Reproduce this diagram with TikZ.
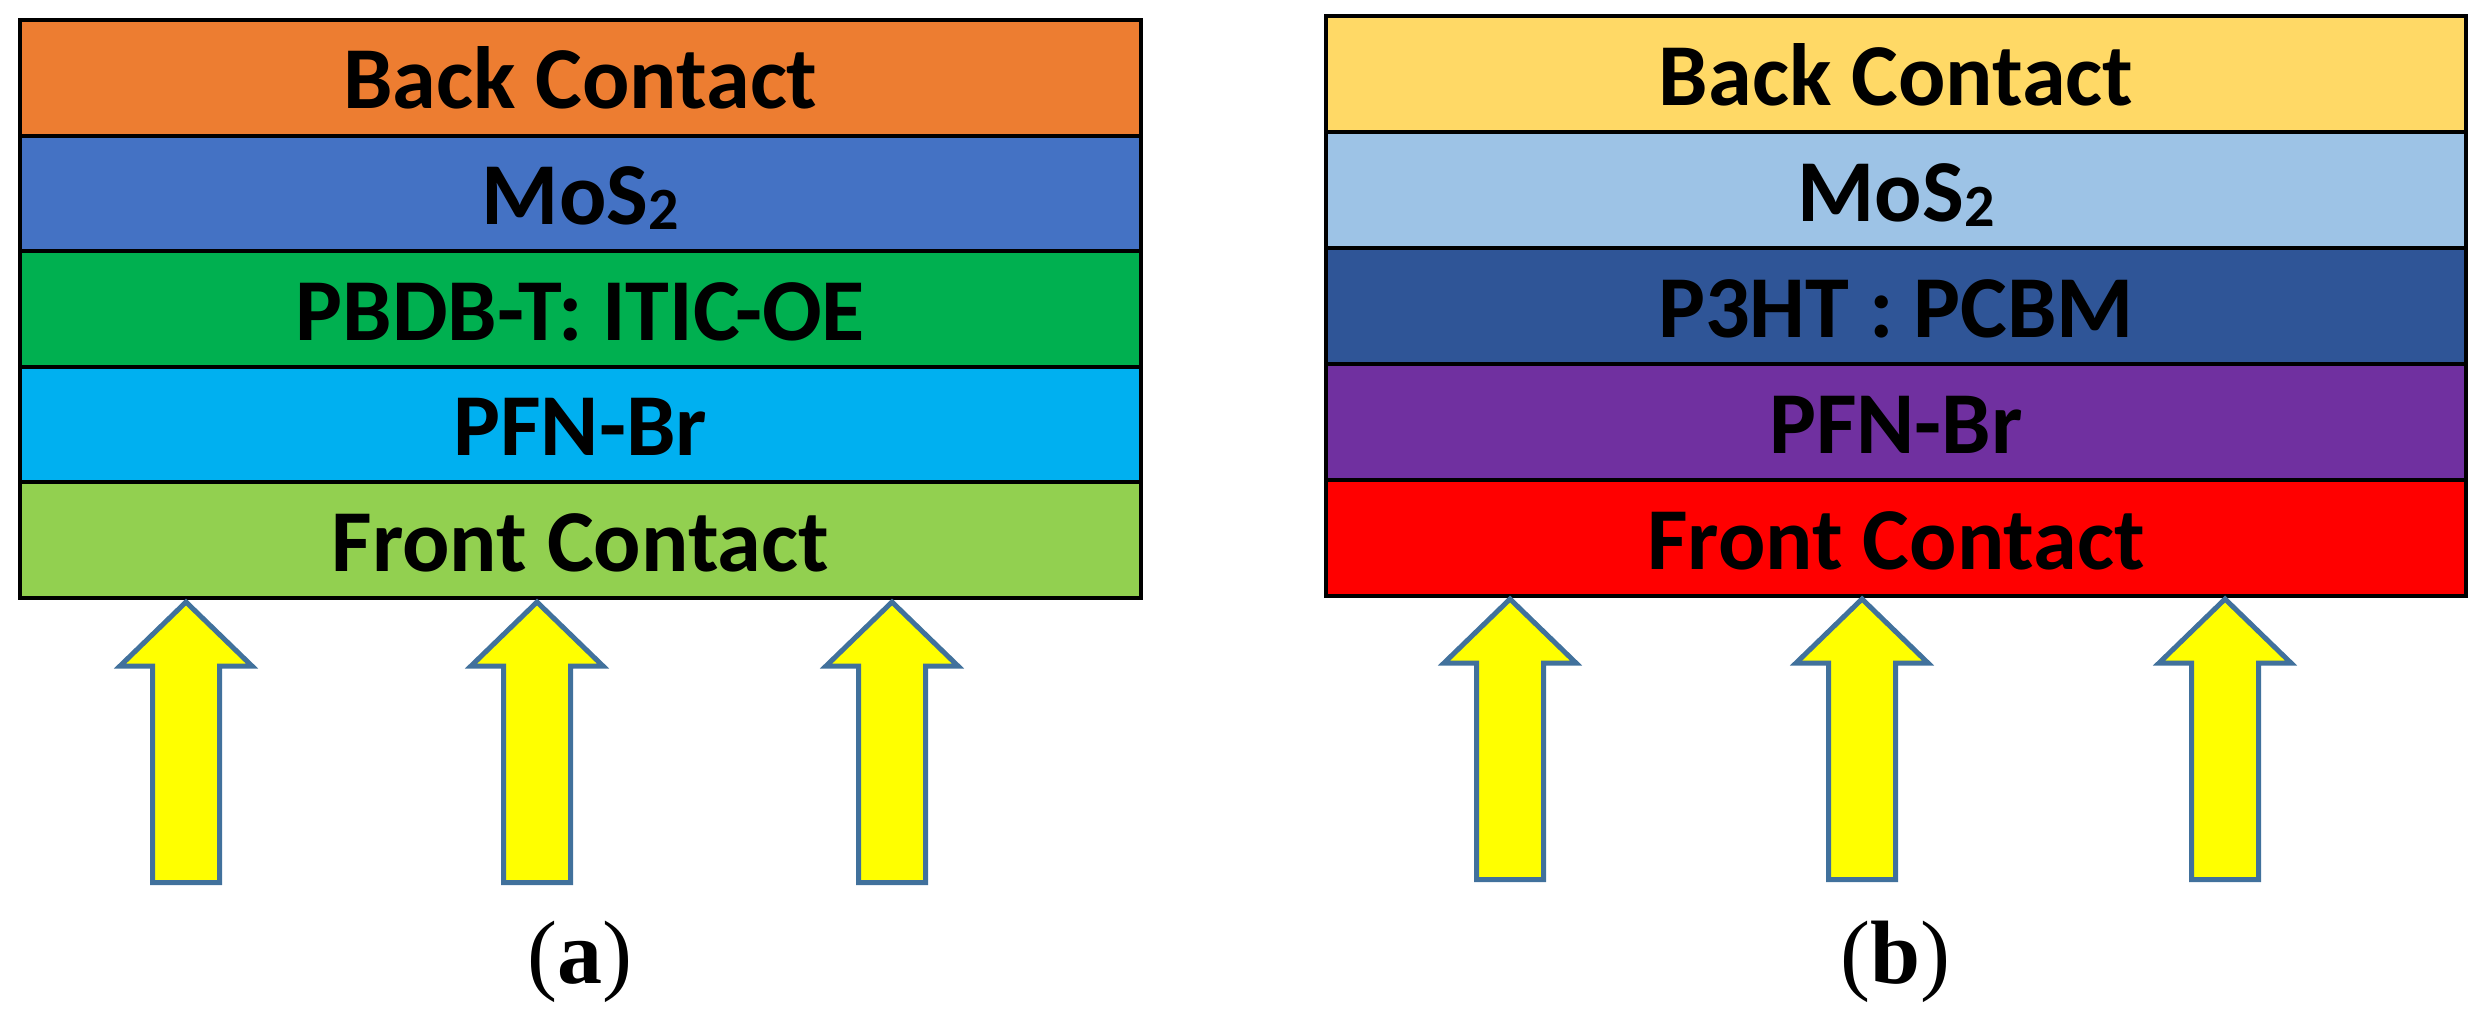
\documentclass[tikz,border=0pt]{standalone}
\usepackage{fontspec}
\setmainfont{Carlito}
\newfontfamily\capfont{Liberation Serif}
\definecolor{cOrange}{HTML}{ED7D31}
\definecolor{cBlue}{HTML}{4472C4}
\definecolor{cGreen}{HTML}{00B050}
\definecolor{cCyan}{HTML}{00B0F0}
\definecolor{cLGreen}{HTML}{92D050}
\definecolor{cGold}{HTML}{FFD966}
\definecolor{cLBlue}{HTML}{9DC3E6}
\definecolor{cDBlue}{HTML}{2F5597}
\definecolor{cPurple}{HTML}{7030A0}
\definecolor{cRed}{HTML}{FF0000}
\definecolor{cArrowLine}{HTML}{41719C}
\definecolor{cSun}{HTML}{FFFF00}
\newcommand{\subtwo}{\raisebox{-0.06em}{\fontsize{18}{20}\selectfont 2}}
\tikzset{
  layerbox/.style={draw=black, line width=1.2pt, rectangle, inner sep=0pt,
    font=\fontsize{26.5}{30}\selectfont\bfseries, text height=18.6pt, text depth=0pt},
  leftlayer/.style={layerbox, minimum width=336.45pt, minimum height=34.68pt},
  rightlayer/.style={layerbox, minimum width=342pt, minimum height=34.8pt},
  sunarrow/.style={draw=cArrowLine, fill=cSun, line width=1.5pt, line join=miter},
  caplabel/.style={anchor=base, inner sep=0pt, font=\capfont\fontsize{27}{30}\selectfont}
}
\newcommand{\lightup}[1]{%
  \draw[sunarrow] (#1) -- ++(66,64) -- ++(-32.5,0) -- ++(0,216.5) -- ++(-67,0)
    -- ++(0,-216.5) -- ++(-32.5,0) -- cycle;}
\begin{document}
\begin{tikzpicture}[x=0.3pt,y=-0.3pt]
\useasboundingbox (0,0) rectangle (2484,1015);
% panel (a)
\node[leftlayer, fill=cOrange] (a1) at (580.25,77.8) {Back Contact};
\node[leftlayer, fill=cBlue]   (a2) at (580.25,193.4) {MoS\subtwo};
\node[leftlayer, fill=cGreen]  (a3) at (580.25,309) {PBDB-T: ITIC-OE};
\node[leftlayer, fill=cCyan]   (a4) at (580.25,424.6) {PFN-Br};
\node[leftlayer, fill=cLGreen] (a5) at (580.25,540.2) {Front Contact};
% panel (b)
\node[rightlayer, fill=cGold]   (b1) at (1896,74) {Back Contact};
\node[rightlayer, fill=cLBlue]  (b2) at (1896,190) {MoS\subtwo};
\node[rightlayer, fill=cDBlue]  (b3) at (1896,306) {P3HT : PCBM};
\node[rightlayer, fill=cPurple] (b4) at (1896,422) {PFN-Br};
\node[rightlayer, fill=cRed]    (b5) at (1896,538) {Front Contact};
% arrow tips
\coordinate (ta1) at (186,602);
\coordinate (ta2) at (537,602);
\coordinate (ta3) at (892,602);
\coordinate (tb1) at (1510,599);
\coordinate (tb2) at (1862,599);
\coordinate (tb3) at (2225,599);
\lightup{ta1}
\lightup{ta2}
\lightup{ta3}
\lightup{tb1}
\lightup{tb2}
\lightup{tb3}
% captions
\node[caplabel] (capa) at (580,983) {(\textbf{a})};
\node[caplabel] (capb) at (1895,983) {(\textbf{b})};
\end{tikzpicture}
\end{document}
